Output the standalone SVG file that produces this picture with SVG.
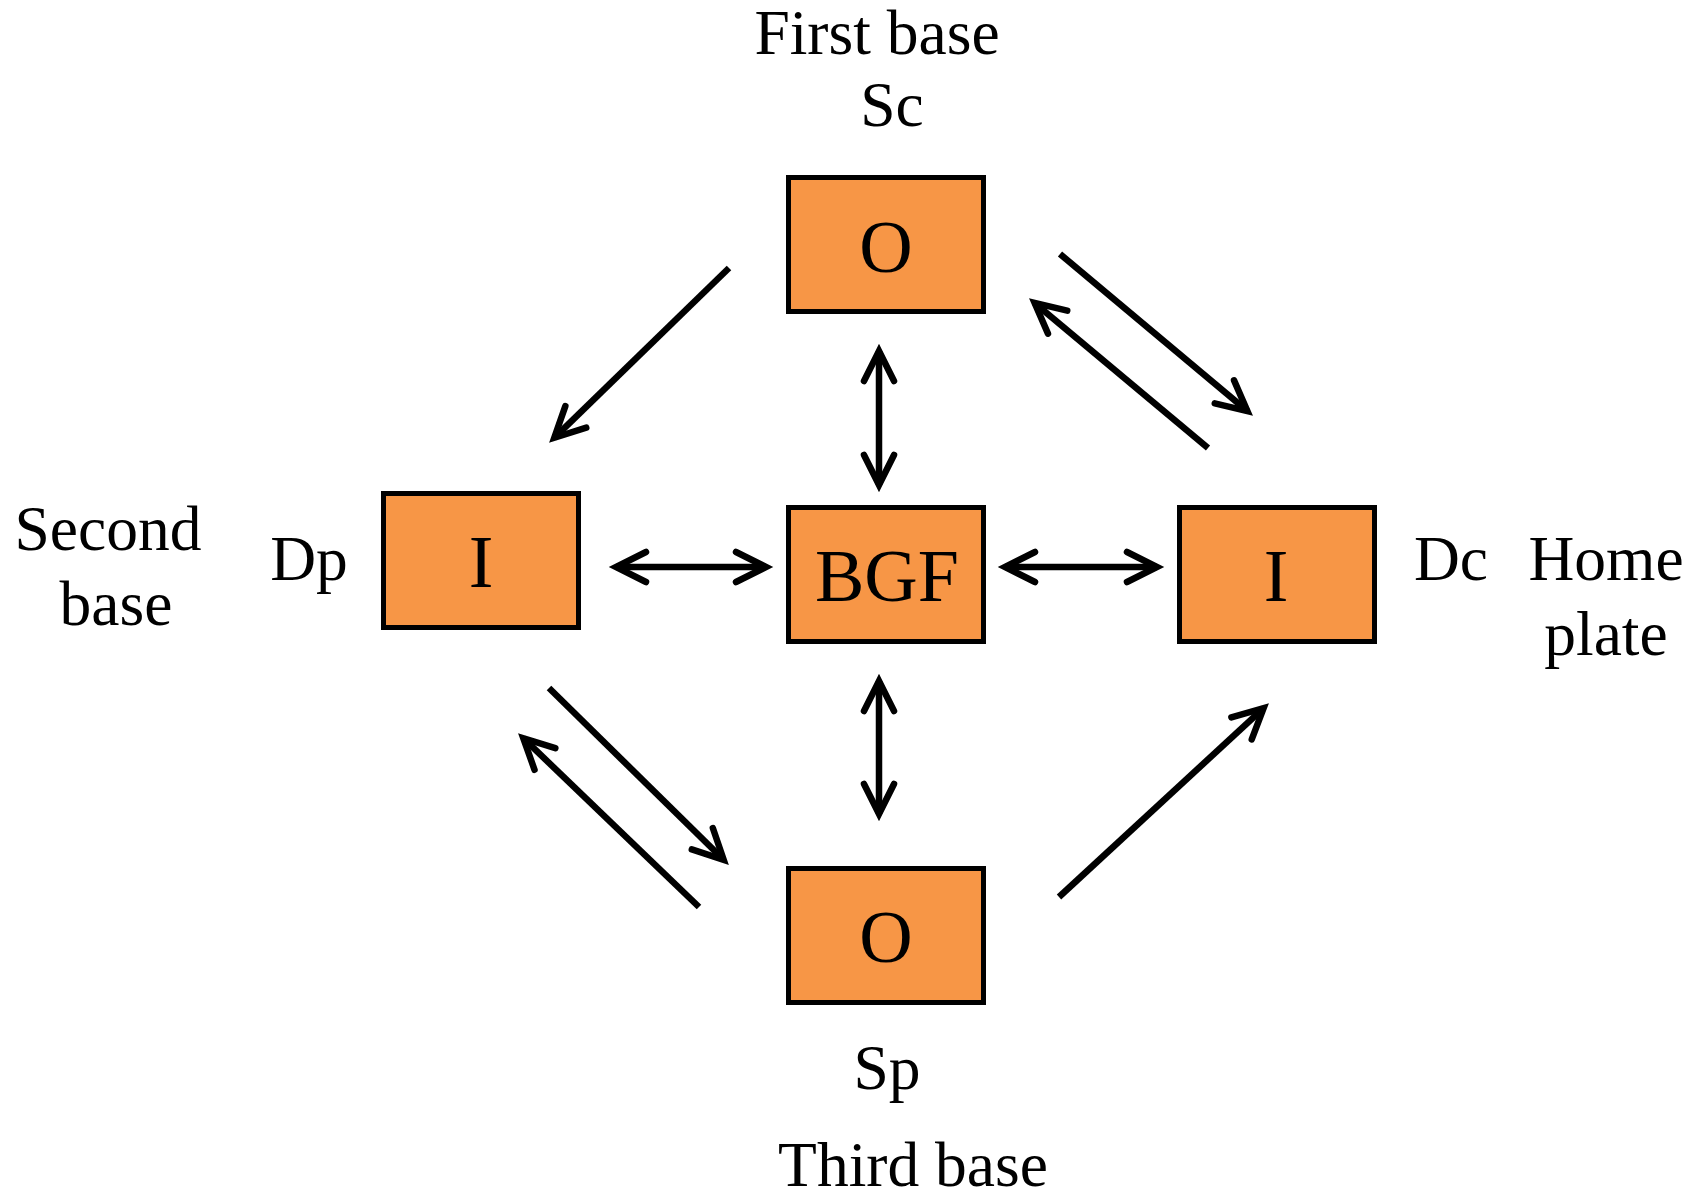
<svg xmlns="http://www.w3.org/2000/svg" width="1699" height="1201" viewBox="0 0 1699 1201">
<style>
.box{fill:#F79646;stroke:#000;stroke-width:5}
.t{font-family:"Liberation Serif","Times New Roman",serif;fill:#000;text-anchor:middle}
.big{font-size:74px}
.lbl{font-size:63.5px}
.c{stroke:#000;stroke-width:6.5;fill:none}
</style>
<defs>
<marker id="ah" markerUnits="userSpaceOnUse" markerWidth="80" markerHeight="80" refX="0" refY="0" viewBox="-40 -40 80 80" orient="auto-start-reverse" overflow="visible">
<path d="M -30,-15 L 0,0 L -30,15" fill="none" stroke="#000" stroke-width="6.5" stroke-linecap="round" stroke-linejoin="miter"/>
</marker>
</defs>
<rect width="1699" height="1201" fill="#fff"/>
<g id="connectors">
<line class="c" x1="729" y1="268" x2="554.3" y2="437.8" marker-end="url(#ah)"/>
<line class="c" x1="1060" y1="254" x2="1247.4" y2="411.1" marker-end="url(#ah)"/>
<line class="c" x1="1208" y1="448" x2="1034.6" y2="302.9" marker-end="url(#ah)"/>
<line class="c" x1="549" y1="688" x2="723.7" y2="859.8" marker-end="url(#ah)"/>
<line class="c" x1="699" y1="907" x2="523.3" y2="738.2" marker-end="url(#ah)"/>
<line class="c" x1="1059" y1="897" x2="1263.6" y2="708.1" marker-end="url(#ah)"/>
<line class="c" x1="616" y1="567" x2="766" y2="567" marker-start="url(#ah)" marker-end="url(#ah)"/>
<line class="c" x1="1005" y1="567" x2="1157" y2="567" marker-start="url(#ah)" marker-end="url(#ah)"/>
<line class="c" x1="879" y1="351" x2="879" y2="485" marker-start="url(#ah)" marker-end="url(#ah)"/>
<line class="c" x1="879" y1="681" x2="879" y2="814" marker-start="url(#ah)" marker-end="url(#ah)"/>
</g>
<g id="node-top">
<rect class="box" x="788.5" y="177.5" width="195" height="134"/>
<text class="t big" x="886" y="272">O</text>
</g>
<g id="node-left">
<rect class="box" x="383.5" y="493.5" width="195" height="134"/>
<text class="t big" x="481" y="587">I</text>
</g>
<g id="node-center">
<rect class="box" x="788.5" y="507.5" width="195" height="134"/>
<text class="t big" x="887" y="601">BGF</text>
</g>
<g id="node-right">
<rect class="box" x="1179.5" y="507.5" width="195" height="134"/>
<text class="t big" x="1276" y="601">I</text>
</g>
<g id="node-bottom">
<rect class="box" x="788.5" y="868.5" width="195" height="134"/>
<text class="t big" x="886" y="962">O</text>
</g>
<g id="labels">
<text class="t lbl" x="877" y="54">First base</text>
<text class="t lbl" x="892" y="126">Sc</text>
<text class="t lbl" x="108" y="550">Second</text>
<text class="t lbl" x="116" y="625">base</text>
<text class="t lbl" x="309" y="580">Dp</text>
<text class="t lbl" x="1451" y="580">Dc</text>
<text class="t lbl" x="1606" y="580">Home</text>
<text class="t lbl" x="1606" y="655">plate</text>
<text class="t lbl" x="887" y="1089">Sp</text>
<text class="t lbl" x="913" y="1186">Third base</text>
</g>
</svg>
